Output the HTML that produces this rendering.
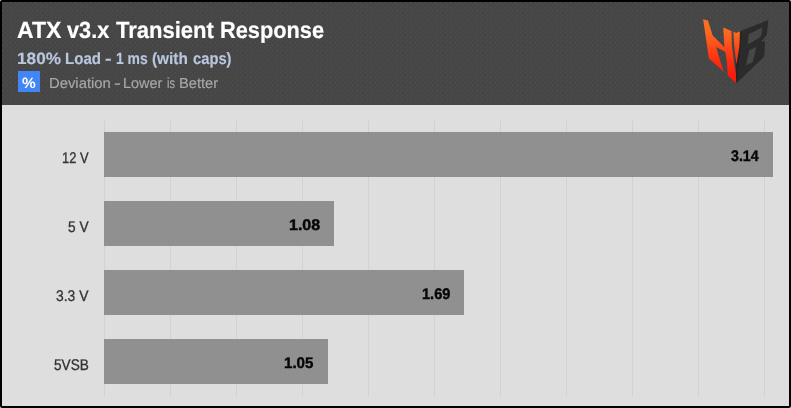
<!DOCTYPE html>
<html><head><meta charset="utf-8">
<style>
html,body{margin:0;padding:0;}
body{width:791px;height:408px;overflow:hidden;background:#fff;font-family:"Liberation Sans",sans-serif;position:relative;}
#frame{position:absolute;left:0;top:0;width:791px;height:408px;background:#000;border-radius:2px;}
#hdr{position:absolute;left:2px;top:2px;width:787px;height:103px;background:#464646;}
#plot{position:absolute;left:2px;top:105px;width:787px;height:301px;background:#dedede;}
.t{position:absolute;white-space:nowrap;transform-origin:0 0;line-height:1;}
#unit{position:absolute;left:18px;top:71px;width:22px;height:21px;background:#4285f4;}
</style></head><body>
<div id="frame"></div>
<div id="hdr"></div>
<div id="plot"></div>
<svg style="position:absolute;left:0;top:0" width="791" height="408">
<defs>
<pattern id="hp" x="0" y="0" width="5" height="5" patternUnits="userSpaceOnUse"><rect x="2" y="0" width="1" height="1" fill="#515151"/><rect x="0" y="2" width="1" height="1" fill="#515151"/></pattern>
<pattern id="bp" x="0" y="0" width="2" height="2" patternUnits="userSpaceOnUse"><rect x="0" y="0" width="1" height="1" fill="#8d8d8d"/></pattern>
</defs>
<rect x="2" y="2" width="787" height="103" fill="url(#hp)"/>
<rect x="104" y="120" width="1" height="276" fill="#d2d2d2"/><rect x="170" y="120" width="1" height="276" fill="#d2d2d2"/><rect x="236" y="120" width="1" height="276" fill="#d2d2d2"/><rect x="302" y="120" width="1" height="276" fill="#d2d2d2"/><rect x="368" y="120" width="1" height="276" fill="#d2d2d2"/><rect x="434" y="120" width="1" height="276" fill="#d2d2d2"/><rect x="500" y="120" width="1" height="276" fill="#d2d2d2"/><rect x="566" y="120" width="1" height="276" fill="#d2d2d2"/><rect x="632" y="120" width="1" height="276" fill="#d2d2d2"/><rect x="698" y="120" width="1" height="276" fill="#d2d2d2"/><rect x="764" y="120" width="1" height="276" fill="#d2d2d2"/>
<rect x="104" y="132" width="669" height="45" fill="#919191"/><rect x="104" y="132" width="669" height="45" fill="url(#bp)"/><rect x="104" y="201" width="230" height="45" fill="#919191"/><rect x="104" y="201" width="230" height="45" fill="url(#bp)"/><rect x="104" y="270" width="360" height="45" fill="#919191"/><rect x="104" y="270" width="360" height="45" fill="url(#bp)"/><rect x="104" y="339" width="224" height="45" fill="#919191"/><rect x="104" y="339" width="224" height="45" fill="url(#bp)"/>
</svg>
<div id="unit"></div>
<div id="txt" style="position:absolute;left:0;top:0;width:791px;height:408px;will-change:transform">
<div class="t" style="left:16.81px;top:18.7px;font-size:23.4px;font-weight:bold;color:#ffffff;-webkit-text-stroke:0.2px #ffffff;transform:matrix(0.9831,0.001,0,1,0,0)">ATX</div>
<div class="t" style="left:67.4px;top:18.7px;font-size:23.4px;font-weight:bold;color:#ffffff;-webkit-text-stroke:0.2px #ffffff;transform:matrix(0.9282,0.001,0,1,0,0)">v3.x</div>
<div class="t" style="left:115.56px;top:18.7px;font-size:23.4px;font-weight:bold;color:#ffffff;-webkit-text-stroke:0.2px #ffffff;transform:matrix(0.9411,0.001,0,1,0,0)">Transient</div>
<div class="t" style="left:219.5px;top:18.7px;font-size:23.4px;font-weight:bold;color:#ffffff;-webkit-text-stroke:0.2px #ffffff;transform:matrix(0.9303,0.001,0,1,0,0)">Response</div>
<div class="t" style="left:16.55px;top:49.8px;font-size:16.4px;font-weight:bold;color:#b9c7df;-webkit-text-stroke:0.15px #b9c7df;transform:matrix(1.0494,0.001,0,1,0,0)">180%</div>
<div class="t" style="left:65.18px;top:49.8px;font-size:16.4px;font-weight:bold;color:#b9c7df;-webkit-text-stroke:0.15px #b9c7df;transform:matrix(0.9181,0.001,0,1,0,0)">Load</div>
<div class="t" style="left:105.29px;top:49.8px;font-size:16.4px;font-weight:bold;color:#b9c7df;-webkit-text-stroke:0.15px #b9c7df;transform:matrix(1.2222,0.001,0,1,0,0)">-</div>
<div class="t" style="left:115.75px;top:49.8px;font-size:16.4px;font-weight:bold;color:#b9c7df;-webkit-text-stroke:0.15px #b9c7df;transform:matrix(0.8503,0.001,0,1,0,0)">1 ms</div>
<div class="t" style="left:152.3px;top:49.8px;font-size:16.4px;font-weight:bold;color:#b9c7df;-webkit-text-stroke:0.15px #b9c7df;transform:matrix(0.937,0.001,0,1,0,0)">(with</div>
<div class="t" style="left:192.55px;top:49.8px;font-size:16.4px;font-weight:bold;color:#b9c7df;-webkit-text-stroke:0.15px #b9c7df;transform:matrix(0.8988,0.001,0,1,0,0)">caps)</div>
<div class="t" style="left:48.88px;top:76.3px;font-size:14.6px;font-weight:normal;color:#a9a9a9;-webkit-text-stroke:0.15px #a9a9a9;transform:matrix(1.0153,0.001,0,1,0,0)">Deviation</div>
<div class="t" style="left:114.11px;top:76.3px;font-size:14.6px;font-weight:normal;color:#a9a9a9;-webkit-text-stroke:0.15px #a9a9a9;transform:matrix(1.3867,0.001,0,1,0,0)">-</div>
<div class="t" style="left:123.41px;top:76.3px;font-size:14.6px;font-weight:normal;color:#a9a9a9;-webkit-text-stroke:0.15px #a9a9a9;transform:matrix(0.987,0.001,0,1,0,0)">Lower</div>
<div class="t" style="left:166.94px;top:76.3px;font-size:14.6px;font-weight:normal;color:#a9a9a9;-webkit-text-stroke:0.15px #a9a9a9;transform:matrix(0.7556,0.001,0,1,0,0)">is</div>
<div class="t" style="left:178.8px;top:76.3px;font-size:14.6px;font-weight:normal;color:#a9a9a9;-webkit-text-stroke:0.15px #a9a9a9;transform:matrix(1.004,0.001,0,1,0,0)">Better</div>
<div class="t" style="left:61.86px;top:150px;font-size:15.4px;font-weight:normal;color:#333333;-webkit-text-stroke:0.3px #333333;transform:matrix(0.8358,0.001,0,1,0,0)">12 V</div>
<div class="t" style="left:67.85px;top:219px;font-size:15.4px;font-weight:normal;color:#333333;-webkit-text-stroke:0.3px #333333;transform:matrix(0.8923,0.001,0,1,0,0)">5 V</div>
<div class="t" style="left:56.15px;top:288px;font-size:15.4px;font-weight:normal;color:#333333;-webkit-text-stroke:0.3px #333333;transform:matrix(0.9014,0.001,0,1,0,0)">3.3 V</div>
<div class="t" style="left:53.56px;top:357px;font-size:15.4px;font-weight:normal;color:#333333;-webkit-text-stroke:0.3px #333333;transform:matrix(0.8863,0.001,0,1,0,0)">5VSB</div>
<div class="t" style="left:731.37px;top:148px;font-size:15.4px;font-weight:bold;color:#060606;-webkit-text-stroke:0.4px #060606;transform:matrix(0.921,0.001,0,1,0,0)">3.14</div>
<div class="t" style="left:289.32px;top:217px;font-size:15.4px;font-weight:bold;color:#060606;-webkit-text-stroke:0.4px #060606;transform:matrix(1.0379,0.001,0,1,0,0)">1.08</div>
<div class="t" style="left:422.29px;top:286px;font-size:15.4px;font-weight:bold;color:#060606;-webkit-text-stroke:0.4px #060606;transform:matrix(0.9461,0.001,0,1,0,0)">1.69</div>
<div class="t" style="left:284.46px;top:355px;font-size:15.4px;font-weight:bold;color:#060606;-webkit-text-stroke:0.4px #060606;transform:matrix(0.9828,0.001,0,1,0,0)">1.05</div>
<div class="t" style="left:21.88px;top:75px;font-size:15px;font-weight:bold;color:#ffffff;-webkit-text-stroke:0px #ffffff;transform:matrix(1.032,0.001,0,1,0,0)">%</div>
</div>
<svg id="logo" style="position:absolute;left:695px;top:10px" width="90" height="85" viewBox="695 10 90 85">
<defs>
<linearGradient id="og" gradientUnits="userSpaceOnUse" x1="0" y1="19" x2="0" y2="83">
<stop offset="0" stop-color="#f97222"/><stop offset="0.2" stop-color="#fa6a20"/><stop offset="0.35" stop-color="#fc581c"/><stop offset="0.5" stop-color="#fe4016"/><stop offset="0.65" stop-color="#ff2e10"/><stop offset="0.8" stop-color="#ff200c"/><stop offset="1" stop-color="#ff1508"/>
</linearGradient>
</defs>
<polygon fill="#242424" points="739.5,31.5 742.6,30.2 737.5,82 736.1,83.1 735.5,60"/>
<path fill="url(#og)" d="M703.1,19.3 L708,20.5 L712.7,35.6 L724.4,47.3 L723.2,27.5 L731.5,31.1 L731.8,46.5 L732.8,52 L733.8,62 L735.9,74.3 L736.1,83.1 L727.8,75.5 L726.9,62 L725.4,52 L716.2,47 L718.4,55 L723.6,71.5 L708.9,58.4 Z"/>
<path fill="url(#og)" d="M733.4,31.5 L736,33 L740,31.2 L739.4,46.5 L737.5,58 L736.6,64.2 L736.2,62.4 L734.1,44 Z"/>
<path fill="#2b2b2b" fill-rule="evenodd" d="M742.6,30.2 L768.3,19.9 L767.4,30 L766.7,34.9 L761.3,41.5 L765,41.5 L764.7,49.6 L764.2,56.6 L738.3,81.6 L737.5,81 Z
M748.6,34.2 L762.2,27.6 L761.9,31 L761.3,35 L760.2,37.2 L747.8,44.4 Z
M749.3,49.9 L756.5,47.2 L752.7,62.1 L746,65.4 Z"/>
</svg>
</body></html>
